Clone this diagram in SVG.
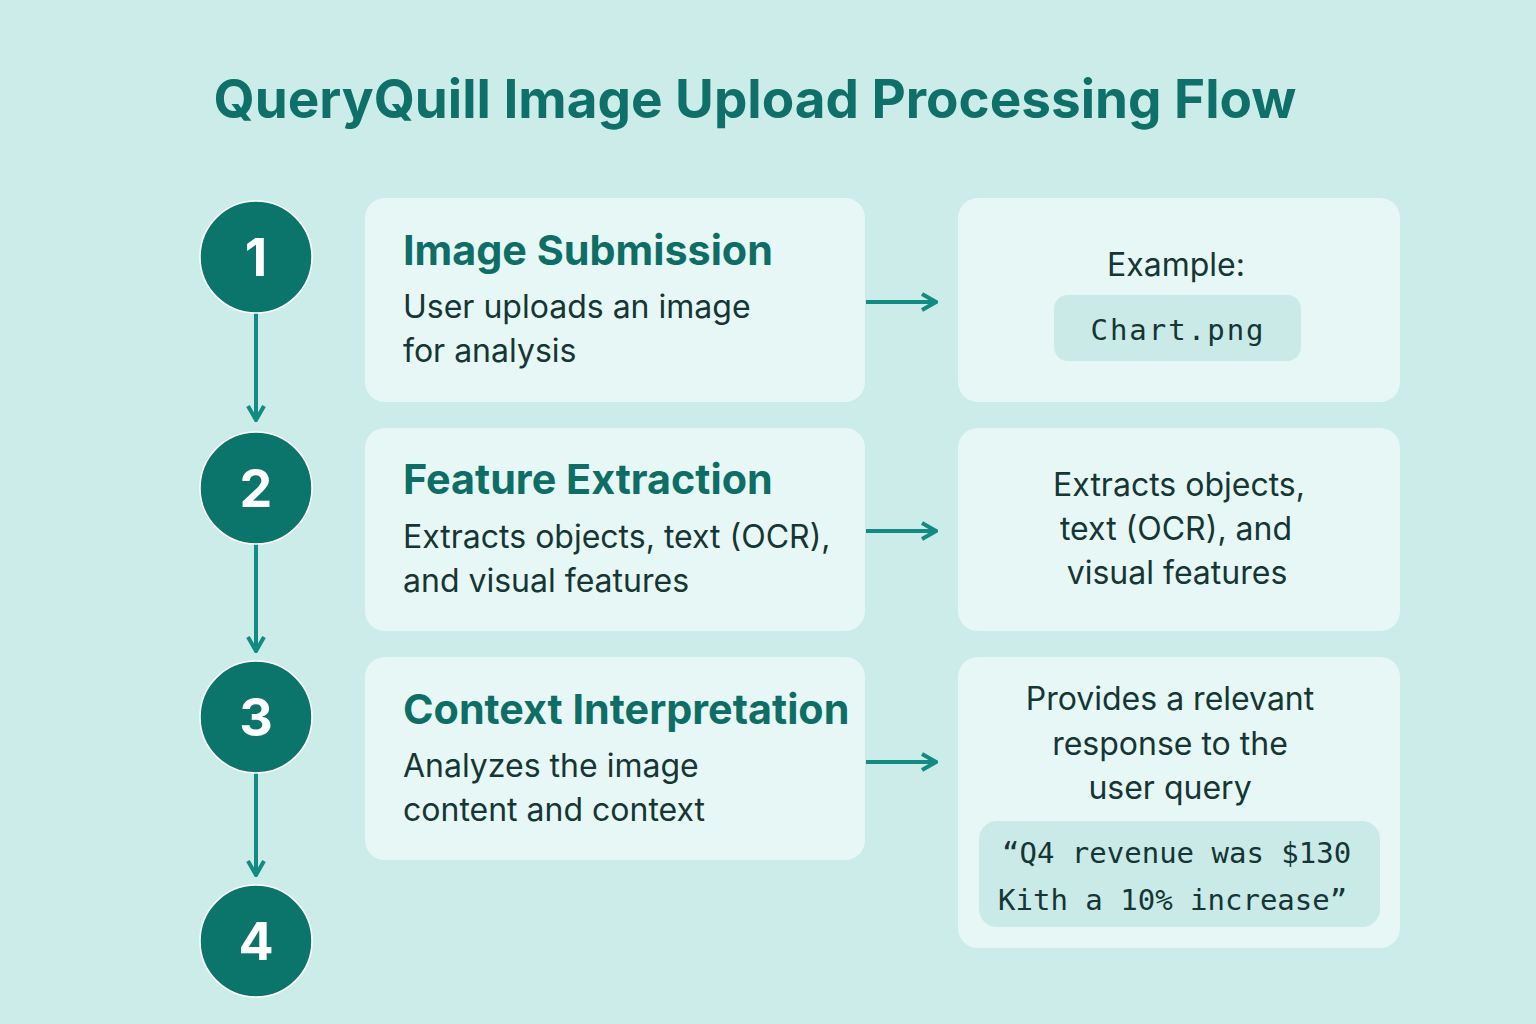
<svg xmlns="http://www.w3.org/2000/svg" width="1536" height="1024" viewBox="0 0 1536 1024">
<defs>
<style>
.bg{fill:#CBECE9}
.card{fill:#E7F7F6}
.pill{fill:#C9EAE7}
.circ{fill:#0B756C;stroke:#FFFFFF;stroke-width:1.5}
.num{font-family:Inter,"Noto Sans",sans-serif;font-weight:700;font-size:52px;fill:#FFFFFF;text-anchor:middle}
.title{font-family:Inter,"Noto Sans",sans-serif;font-weight:700;font-size:53px;fill:#0E7068}
.head{font-family:Inter,"Noto Sans",sans-serif;font-weight:700;font-size:41.3px;fill:#0E6E66}
.body{font-family:Inter,"Noto Sans",sans-serif;font-size:32px;fill:#143634}
.mid{text-anchor:middle}
.mono{font-family:"DejaVu Sans Mono","Liberation Mono",monospace;font-size:29px;fill:#143634}
.conn{stroke:#138A82;stroke-width:4;fill:none}
</style>
<marker id="ah" viewBox="0 0 20 20" refX="18" refY="10" markerWidth="20" markerHeight="20" markerUnits="userSpaceOnUse" orient="auto">
<path d="M4,2 L18,10 L4,18" fill="none" stroke="#138A82" stroke-width="4"/>
</marker>
</defs>
<rect class="bg" x="0" y="0" width="1536" height="1024"/>
<text class="title" x="755" y="118" text-anchor="middle">QueryQuill Image Upload Processing Flow</text>

<g id="connectors">
<line class="conn" x1="256" y1="313" x2="256" y2="420" marker-end="url(#ah)"/>
<line class="conn" x1="256" y1="544" x2="256" y2="651" marker-end="url(#ah)"/>
<line class="conn" x1="256" y1="773" x2="256" y2="875" marker-end="url(#ah)"/>
<line class="conn" x1="866" y1="302" x2="936" y2="302" marker-end="url(#ah)"/>
<line class="conn" x1="866" y1="531" x2="936" y2="531" marker-end="url(#ah)"/>
<line class="conn" x1="866" y1="762" x2="936" y2="762" marker-end="url(#ah)"/>
</g>

<g id="step1"><circle class="circ" cx="256" cy="257" r="56"/><text class="num" x="256" y="276">1</text></g>
<g id="step2"><circle class="circ" cx="256" cy="488" r="56"/><text class="num" x="256" y="507">2</text></g>
<g id="step3"><circle class="circ" cx="256" cy="717" r="56"/><text class="num" x="256" y="736">3</text></g>
<g id="step4"><circle class="circ" cx="256" cy="941" r="56"/><text class="num" x="256" y="960">4</text></g>

<g id="card-image-submission">
<rect class="card" x="365" y="198" width="500" height="204" rx="20"/>
<text class="head" x="403" y="265">Image Submission</text>
<text class="body" x="403" y="318">User uploads an image</text>
<text class="body" x="403" y="362">for analysis</text>
</g>
<g id="card-feature-extraction">
<rect class="card" x="365" y="428" width="500" height="203" rx="20"/>
<text class="head" x="403" y="494">Feature Extraction</text>
<text class="body" x="403" y="548">Extracts objects, text (OCR),</text>
<text class="body" x="403" y="592">and visual features</text>
</g>
<g id="card-context-interpretation">
<rect class="card" x="365" y="657" width="500" height="203" rx="20"/>
<text class="head" x="403" y="724">Context Interpretation</text>
<text class="body" x="403" y="777">Analyzes the image</text>
<text class="body" x="403" y="821">content and context</text>
</g>

<g id="example-1">
<rect class="card" x="958" y="198" width="442" height="204" rx="20"/>
<text class="body mid" x="1176" y="276">Example:</text>
<rect class="pill" x="1054" y="295" width="247" height="66" rx="14"/>
<text class="mono mid" x="1178" y="340" font-size="31" letter-spacing="2">Chart.png</text>
</g>
<g id="example-2">
<rect class="card" x="958" y="428" width="442" height="203" rx="20"/>
<text class="body mid" x="1179" y="496">Extracts objects,</text>
<text class="body mid" x="1176" y="540">text (OCR), and</text>
<text class="body mid" x="1177" y="584">visual features</text>
</g>
<g id="example-3">
<rect class="card" x="958" y="657" width="442" height="291" rx="20"/>
<text class="body mid" x="1170" y="710">Provides a relevant</text>
<text class="body mid" x="1170" y="755">response to the</text>
<text class="body mid" x="1170" y="799">user query</text>
<rect class="pill" x="979" y="821" width="401" height="106" rx="18"/>
<text class="mono" x="1002" y="863">“Q4 revenue was $130</text>
<text class="mono" x="998" y="910">Kith a 10% increase”</text>
</g>
</svg>
